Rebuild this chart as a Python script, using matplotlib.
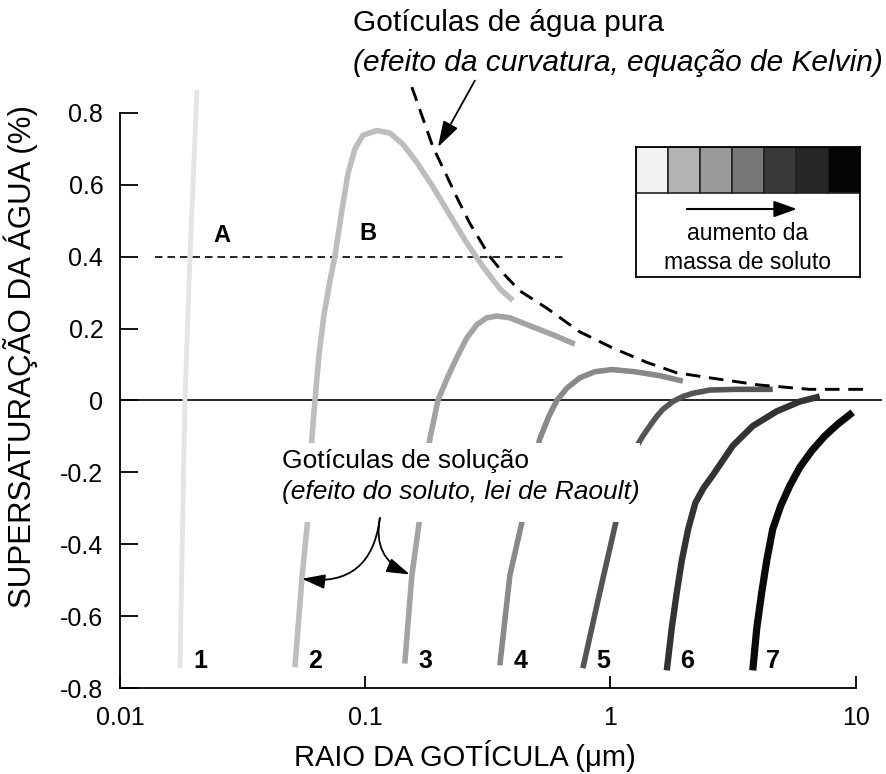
import matplotlib

matplotlib.use("Agg")

import matplotlib.pyplot as plt
from matplotlib.patches import Rectangle
from matplotlib.ticker import NullLocator

plt.rcParams["font.family"] = ["Liberation Sans", "DejaVu Sans"]

# droplet radius (um) and supersaturation (%)
r1 = [0.01757, 0.0184, 0.0193, 0.0206]
s1 = [-0.745, 0.0, 0.40, 0.864]
r2 = [0.0517, 0.0552, 0.0584, 0.0606, 0.0624, 0.0648, 0.0679, 0.0718, 0.0752, 0.0804,
      0.0850, 0.0908, 0.0979, 0.1116, 0.1261, 0.1425, 0.1625, 0.189, 0.2214, 0.2598,
      0.3018, 0.354, 0.400]
s2 = [-0.742, -0.496, -0.327, -0.107, 0.0, 0.126, 0.238, 0.332, 0.40, 0.530,
      0.630, 0.700, 0.738, 0.751, 0.744, 0.713, 0.662, 0.594, 0.516, 0.438,
      0.373, 0.311, 0.278]
r3 = [0.145, 0.155, 0.167, 0.1835, 0.198, 0.2153, 0.2365, 0.2598, 0.2853, 0.3133,
      0.3441, 0.389, 0.469, 0.582, 0.716]
s3 = [-0.732, -0.487, -0.327, -0.107, 0.0, 0.06, 0.12, 0.174, 0.211, 0.230,
      0.235, 0.230, 0.208, 0.183, 0.157]
r4 = [0.354, 0.389, 0.4395, 0.515, 0.561, 0.6045, 0.664, 0.750, 0.864, 1.013,
      1.258, 1.59, 1.973]
s4 = [-0.737, -0.487, -0.327, -0.107, -0.044, 0.0, 0.034, 0.063, 0.080, 0.086,
      0.080, 0.069, 0.054]
r5 = [0.772, 0.905, 1.062, 1.269, 1.355, 1.447, 1.546, 1.635, 1.796, 1.973,
      2.167, 2.542, 3.276, 4.59]
s5 = [-0.745, -0.534, -0.327, -0.132, -0.099, -0.071, -0.044, -0.025, -0.003, 0.011,
      0.020, 0.029, 0.031, 0.031]
r6 = [1.698, 1.779, 1.865, 1.955, 2.075, 2.22, 2.40, 2.615, 3.155, 3.806, 4.77, 5.92, 7.14]
s6 = [-0.751, -0.633, -0.534, -0.445, -0.358, -0.285, -0.243, -0.208, -0.126, -0.071,
      -0.030, -0.003, 0.011]
r7 = [3.806, 3.953, 4.14, 4.34, 4.59, 4.95, 5.39, 5.92, 6.62, 7.48, 8.45, 9.73]
s7 = [-0.751, -0.633, -0.534, -0.445, -0.358, -0.293, -0.237, -0.186, -0.140, -0.099,
      -0.066, -0.033]

# pure water (Kelvin) curve
kelvin_r = [0.155, 0.189, 0.2113, 0.2365, 0.267, 0.3225, 0.371, 0.427, 0.550, 0.750,
            1.023, 1.407, 1.865, 2.542, 4.06, 6.50, 11.2]
kelvin_s = [0.872, 0.705, 0.636, 0.565, 0.493, 0.40, 0.349, 0.305, 0.257, 0.191,
            0.146, 0.106, 0.077, 0.063, 0.043, 0.031, 0.031]

# ambient supersaturation line
ambient_r = [0.0139, 0.667]
ambient_s = [0.4, 0.4]

curve_labels = ["1", "2", "3", "4", "5", "6", "7"]
curve_colors = ["#e4e4e4", "#bdbdbd", "#a3a3a3", "#898989", "#555555", "#333333", "#0a0a0a"]
curve_widths = [3.5, 4, 4, 4, 4, 4.6, 5.2]
swatch_colors = ["#f2f2f2", "#b4b4b4", "#9a9a9a", "#777777", "#3a3a3a", "#262626", "#050505"]

xticks = [0.01, 0.1, 1, 10]
xticklabels = ["0.01", "0.1", "1", "10"]
yticks = [-0.8, -0.6, -0.4, -0.2, 0, 0.2, 0.4, 0.6, 0.8]
yticklabels = ["-0.8", "-0.6", "-0.4", "-0.2", "0", "0.2", "0.4", "0.6", "0.8"]

fig = plt.figure(figsize=(8.86, 7.74), dpi=100)
ax = fig.add_axes([0.1354, 0.1111, 0.8600, 0.7894])
ax.set_xscale("log")
ax.set_xlim(0.01, 12.8)
ax.set_ylim(-0.8, 0.9)

curves = [(r1, s1), (r2, s2), (r3, s3), (r4, s4), (r5, s5), (r6, s6), (r7, s7)]
for (r, s), c, lw, lab in zip(curves, curve_colors, curve_widths, curve_labels):
    ax.plot(r, s, color=c, lw=lw, solid_capstyle="butt", solid_joinstyle="round", zorder=3)
    ax.text(r[0] * 1.21, -0.725, lab, fontsize=18, fontweight="bold",
            ha="center", va="center", zorder=6)

ax.plot(kelvin_r, kelvin_s, color="black", lw=2.1, dashes=(5, 3), zorder=4)
ax.plot(ambient_r, ambient_s, color="black", lw=1.2, dashes=(4.5, 3), zorder=2)
ax.axhline(0, color="black", lw=1.2, zorder=1)

ax.text(0.0261, 0.458, "A", fontsize=17, fontweight="bold", ha="center", va="center")
ax.text(0.1025, 0.464, "B", fontsize=17, fontweight="bold", ha="center", va="center")

# white mask behind the solution-droplet caption
ax.add_patch(Rectangle((0.202, 0.2717), 0.48, 0.129, transform=ax.transAxes,
                       facecolor="white", edgecolor="none", zorder=5))
ax.text(0.0457, -0.167, "Gotículas de solução", fontsize=19, ha="left", va="center", zorder=6)
ax.text(0.0457, -0.256, "(efeito do soluto, lei de Raoult)", fontsize=19, style="italic",
        ha="left", va="center", zorder=6)
arrow_kw = dict(arrowstyle="-|>,head_length=0.7,head_width=0.22", color="black",
                lw=1.3, mutation_scale=20, shrinkA=0, shrinkB=0)
ax.annotate("", xy=(0.0552, -0.496), xytext=(0.1148, -0.327), zorder=6,
            arrowprops=dict(connectionstyle="arc3,rad=-0.5", **arrow_kw))
ax.annotate("", xy=(0.152, -0.484), xytext=(0.1148, -0.327), zorder=6,
            arrowprops=dict(connectionstyle="arc3,rad=0.4", **arrow_kw))

# pure-water caption and arrow
fig.text(0.398, 0.970, "Gotículas de água pura", fontsize=21.5, ha="left", va="center")
fig.text(0.398, 0.919, "(efeito da curvatura, equação de Kelvin)", fontsize=21.5,
         style="italic", ha="left", va="center")
ax.annotate("", xy=(0.198, 0.705), xytext=(0.280, 0.89), annotation_clip=False,
            arrowprops=dict(arrowstyle="-|>,head_length=0.8,head_width=0.25", color="black",
                            lw=1.3, mutation_scale=20, shrinkA=0, shrinkB=0))

# axes styling
for side in ["top", "right"]:
    ax.spines[side].set_visible(False)
ax.spines["left"].set_bounds(-0.8, 0.8)
ax.spines["bottom"].set_bounds(0.01, 10)
ax.spines["left"].set_linewidth(1.3)
ax.spines["bottom"].set_linewidth(1.3)
ax.set_xticks(xticks)
ax.set_xticklabels(xticklabels)
ax.xaxis.set_minor_locator(NullLocator())
ax.set_yticks(yticks)
ax.set_yticklabels(yticklabels)
ax.tick_params(axis="y", direction="in", length=13, width=1.3, pad=12, labelsize=18)
ax.tick_params(axis="x", direction="in", length=9, width=1.3, pad=13, labelsize=18)

ax.set_xlabel("RAIO DA GOTÍCULA (μm)", fontsize=21)
ax.xaxis.set_label_coords(0.4528, -0.085)
ax.set_ylabel("SUPERSATURAÇÃO DA ÁGUA (%)", fontsize=22.5)
ax.yaxis.set_label_coords(-0.1076, 0.542)

# grey-scale key
kax = fig.add_axes([0.7178, 0.6421, 0.2528, 0.168])
kax.set_xlim(0, 7)
kax.set_ylim(0, 1)
kax.bar(range(7), 0.354, bottom=0.646, width=1, align="edge", color=swatch_colors,
        edgecolor="#222222", lw=1.2)
kax.annotate("", xy=(5.03, 0.523), xytext=(1.59, 0.523),
             arrowprops=dict(arrowstyle="-|>,head_length=0.7,head_width=0.25", color="black",
                             lw=1.5, mutation_scale=20, shrinkA=0, shrinkB=0))
kax.text(3.5, 0.338, "aumento da", fontsize=16.5, ha="center", va="center")
kax.text(3.5, 0.108, "massa de soluto", fontsize=16.5, ha="center", va="center")
kax.set_xticks([])
kax.set_yticks([])
for sp in kax.spines.values():
    sp.set_linewidth(1.3)

plt.savefig("out.png", dpi=100)
plt.close()
